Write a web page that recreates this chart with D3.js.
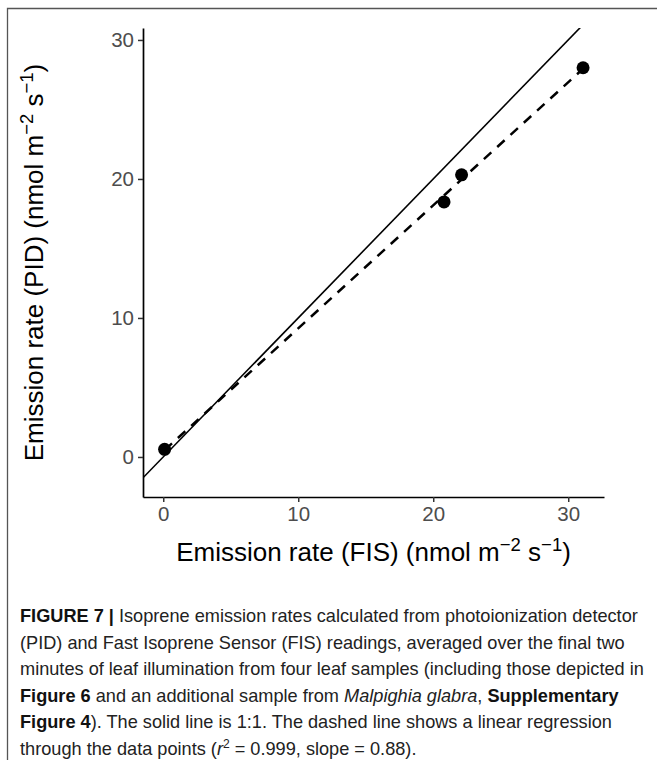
<!DOCTYPE html>
<html>
<head>
<meta charset="utf-8">
<script src="https://cdn.jsdelivr.net/npm/d3@7"></script>
<style>
  body { margin: 0; background: #fff; }
  svg { display: block; }
  .tick text { fill: #4d4d4d; }
</style>
</head>
<body>
<div id="chart"></div>
<script>
// points: FIS vs PID emission rates (nmol m-2 s-1)
var fis = [0.1, 20.8, 22.1, 31.1];
var pid = [0.55, 18.35, 20.3, 28.0];
var xTicks = [0, 10, 20, 30];
var yTicks = [0, 10, 20, 30];

var captionLines = [
  [{t: "FIGURE 7 | ", b: true}, {t: "Isoprene emission rates calculated from photoionization detector"}],
  [{t: "(PID) and Fast Isoprene Sensor (FIS) readings, averaged over the final two"}],
  [{t: "minutes of leaf illumination from four leaf samples (including those depicted in"}],
  [{t: "Figure 6", b: true}, {t: " and an additional sample from "}, {t: "Malpighia glabra", i: true}, {t: ", "}, {t: "Supplementary", b: true}],
  [{t: "Figure 4", b: true}, {t: "). The solid line is 1:1. The dashed line shows a linear regression"}],
  [{t: "through the data points ("}, {t: "r", i: true}, {t: "2", sup: true}, {t: " = 0.999, slope = 0.88)."}]
];

(function() {
  var W = 657, H = 760;
  // panel edges
  var pL = 143, pR = 604, pT = 28, pB = 497;

  var svg = d3.select("#chart").append("svg")
      .attr("width", W)
      .attr("height", H)
      .style("font-family", "'Liberation Sans', Arial, sans-serif");

  // figure frame (top + left edge)
  svg.append("path")
      .attr("d", "M7.5," + H + "V8.5H" + W)
      .attr("fill", "none")
      .attr("stroke", "#555")
      .attr("stroke-width", 1.3);

  var x = d3.scaleLinear().domain([-1.5, 32.65]).range([pL, pR]);
  var y = d3.scaleLinear().domain([-2.88, 30.86]).range([pB, pT]);

  svg.append("defs").append("clipPath").attr("id", "panel")
    .append("rect")
      .attr("x", pL).attr("y", pT)
      .attr("width", pR - pL).attr("height", pB - pT);

  var plot = svg.append("g").attr("clip-path", "url(#panel)");

  // 1:1 line
  var dom = x.domain();
  plot.append("line")
      .attr("x1", x(dom[0])).attr("y1", y(dom[0]))
      .attr("x2", x(dom[1])).attr("y2", y(dom[1]))
      .attr("stroke", "#000")
      .attr("stroke-width", 1.6);

  // least squares fit through the points
  var mx = d3.mean(fis), my = d3.mean(pid);
  var sxy = d3.sum(fis, function(v, i) { return (v - mx) * (pid[i] - my); });
  var sxx = d3.sum(fis, function(v) { return (v - mx) * (v - mx); });
  var slope = sxy / sxx, icpt = my - slope * mx;
  var x0 = d3.min(fis), x1 = d3.max(fis);

  plot.append("line")
      .attr("x1", x(x0)).attr("y1", y(icpt + slope * x0))
      .attr("x2", x(x1)).attr("y2", y(icpt + slope * x1))
      .attr("stroke", "#000")
      .attr("stroke-width", 2.5)
      .attr("stroke-dasharray", "10,8");

  plot.selectAll("circle")
      .data(fis)
    .enter().append("circle")
      .attr("cx", function(d) { return x(d); })
      .attr("cy", function(d, i) { return y(pid[i]); })
      .attr("r", 6.5)
      .attr("fill", "#000");

  // axes
  var xAxis = svg.append("g")
      .attr("transform", "translate(0," + pB + ")")
      .call(d3.axisBottom(x).tickValues(xTicks).tickSize(5).tickPadding(4).tickSizeOuter(0));
  var yAxis = svg.append("g")
      .attr("transform", "translate(" + pL + ",0)")
      .call(d3.axisLeft(y).tickValues(yTicks).tickSize(5).tickPadding(4).tickSizeOuter(0));

  [xAxis, yAxis].forEach(function(a) {
    a.select(".domain").attr("stroke", "#000").attr("stroke-width", 1.7);
    a.selectAll(".tick line").attr("stroke", "#333").attr("stroke-width", 1.5);
    a.selectAll(".tick text").style("font-size", "20.5px").style("font-family", "'Liberation Sans', Arial, sans-serif");
  });

  function axisTitle(g, main) {
    var t = g.append("text")
        .attr("text-anchor", "middle")
        .style("font-size", "26px")
        .attr("fill", "#000");
    t.append("tspan").text(main + " (nmol m");
    t.append("tspan").attr("dy", -10).style("font-size", "18.5px").text("\u22122");
    t.append("tspan").attr("dy", 10).text(" s");
    t.append("tspan").attr("dy", -10).style("font-size", "18.5px").text("\u22121");
    t.append("tspan").attr("dy", 10).text(")");
    return t;
  }

  axisTitle(svg.append("g").attr("transform", "translate(" + ((pL + pR) / 2) + ",561)"),
    "Emission rate (FIS)");
  axisTitle(svg.append("g").attr("transform", "translate(43," + ((pT + pB) / 2) + ") rotate(-90)"),
    "Emission rate (PID)");

  // caption
  var cap = svg.append("g")
      .style("font-family", "'Liberation Sans Narrow', 'Liberation Sans', sans-serif")
      .style("font-size", "18px")
      .attr("fill", "#222");

  var capLines = captionLines.map(function(parts, li) {
    var g = cap.append("g").attr("transform", "translate(20," + (622 + li * 26.6) + ")");
    var t = g.append("text");
    parts.forEach(function(p) {
      var s = t.append("tspan").text(p.t);
      if (p.b) s.style("font-weight", "bold").attr("fill", "#111");
      if (p.i) s.style("font-style", "italic");
      if (p.sup) s.attr("dy", -7).style("font-size", "12px");
      else if (li === 5 && p.t.charAt(0) === " ") s.attr("dy", 7);
    });
    return t;
  });
  // stretch all caption lines by one factor so line 1 spans the measured width
  var w1 = capLines[0].node().getComputedTextLength();
  var k = 618 / w1;
  capLines.forEach(function(t) { t.attr("transform", "scale(" + k + ",1)"); });
})();
</script>
</body>
</html>
